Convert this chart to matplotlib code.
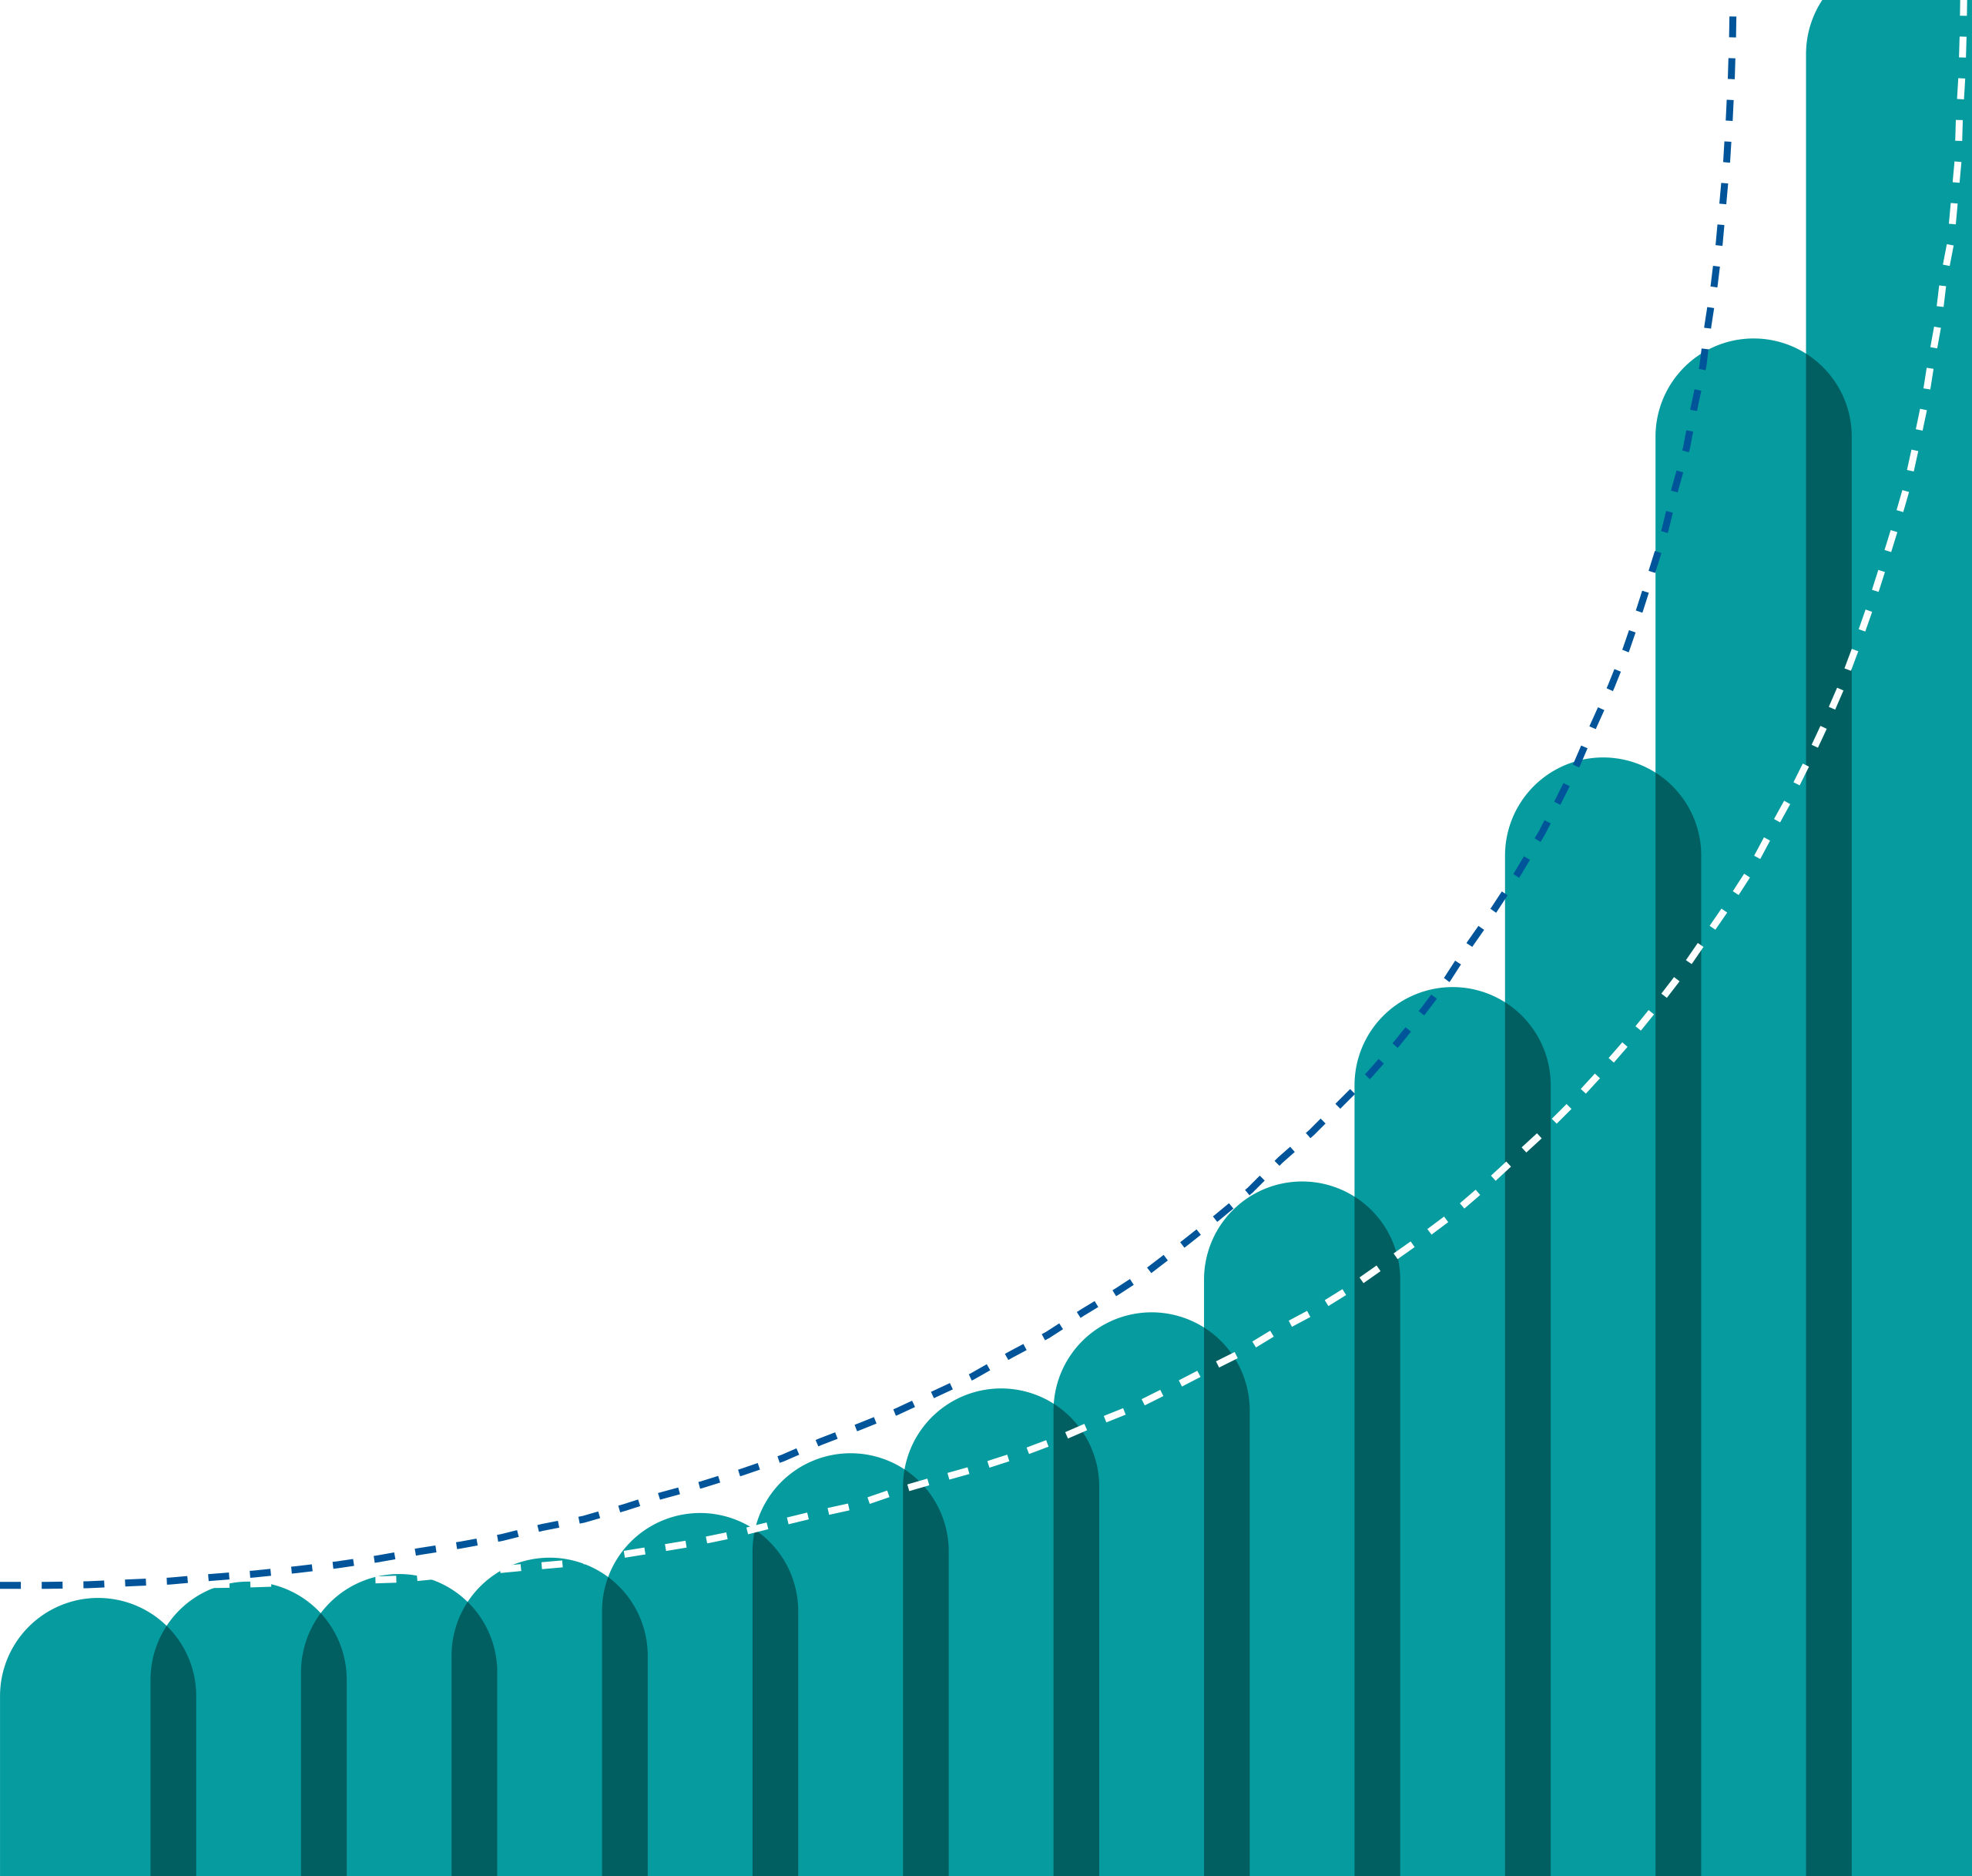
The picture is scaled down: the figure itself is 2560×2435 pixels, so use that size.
import numpy as np
import matplotlib
matplotlib.use("Agg")
import matplotlib.pyplot as plt
from matplotlib.path import Path
from matplotlib.patches import PathPatch

# ---- data ----
categories = list(range(13))
bar_values = [221, 234, 240, 253, 288.5, 336, 387.5, 448, 552, 706.5, 889, 1222, 1526]

blue_x = [-0.652, -0.343, -0.067, 0.209, 0.476, 0.760, 1.036, 1.312, 1.588, 1.855,
          2.139, 2.407, 2.682, 2.950, 3.226, 3.501, 3.735, 4.011, 4.278, 4.546,
          4.796, 5.056, 5.306, 5.557, 5.808, 6.058, 6.309, 6.543, 6.777, 6.969,
          7.220, 7.437, 7.654, 7.855, 8.064, 8.256, 8.448, 8.632, 8.808, 8.966,
          9.117, 9.275, 9.434, 9.593, 9.701, 9.827, 9.935, 10.052, 10.153, 10.245,
          10.328, 10.412, 10.479, 10.554, 10.604, 10.663, 10.696, 10.738, 10.771,
          10.796, 10.821, 10.838, 10.852, 10.860, 10.864, 10.868]
blue_y = [231, 231, 231.5, 233, 234.4, 237.4, 240, 243.4, 247.3, 252,
          258, 263, 269, 277, 283.5, 293, 302, 311, 321, 332,
          345, 357, 369, 383, 397, 414, 430, 448, 465, 480,
          503, 523.5, 545, 569, 591, 614, 637, 662, 688, 713,
          741, 768, 797, 829, 854, 884, 914, 945, 975, 1007,
          1038, 1070, 1103, 1135, 1166.5, 1200, 1232, 1264.5, 1297,
          1330, 1363, 1396, 1430, 1462, 1489, 1501]

white_x = [-0.652, 0.100, 0.978, 2.014, 2.841, 3.117, 3.668, 3.919, 4.203, 4.471,
           4.746, 5.014, 5.281, 5.540, 5.808, 6.067, 6.334, 6.585, 6.835, 7.103,
           7.345, 7.579, 7.813, 8.064, 8.306, 8.532, 8.757, 8.975, 9.184, 9.401,
           9.601, 9.802, 9.986, 10.161, 10.337, 10.504, 10.821, 10.972, 11.097,
           11.231, 11.356, 11.473, 11.582, 11.682, 11.774, 11.858, 11.941, 12.016,
           12.075, 12.133, 12.175, 12.225, 12.259, 12.309, 12.334, 12.359, 12.367,
           12.384, 12.392, 12.397]
white_y = [230, 230.5, 232, 236, 245.5, 248.4, 259, 264, 271, 279,
           287, 294, 305, 314, 323, 333, 345, 358, 370, 386,
           401, 415, 432, 448, 466, 485, 504, 523.5, 545, 569,
           591, 615, 639, 663, 689, 715, 770, 798, 826,
           855, 885, 915, 945, 977, 1008.5, 1040, 1072, 1103,
           1135, 1168, 1200, 1233, 1267, 1298, 1331, 1364, 1397,
           1431, 1463, 1501]

# ---- style ----
TEAL = "#069b9e"
DARK = "#015f62"
BLUE = "#00559a"
BAR_WIDTH = 1.3036

fig = plt.figure(figsize=(25.6, 24.35), dpi=100)
ax = fig.add_axes([0, 0, 1, 1])
ax.set_xlim(-0.652, 12.451)
ax.set_ylim(0, 1491)
ax.axis("off")

# scale so the caps are true semicircles on screen
p0 = ax.transData.transform((0, 0))
p1 = ax.transData.transform((1, 1))
sx, sy = p1[0] - p0[0], p1[1] - p0[1]
rx = BAR_WIDTH / 2
ry = rx * sx / sy


def bar_path(xc, h, bottom=-30):
    t = np.linspace(np.pi, 0, 120)
    verts = [(xc - rx, bottom), (xc - rx, h - ry)]
    verts += list(zip(xc + rx * np.cos(t), h - ry + ry * np.sin(t)))
    verts += [(xc + rx, bottom), (xc - rx, bottom)]
    codes = [Path.MOVETO] + [Path.LINETO] * (len(verts) - 2) + [Path.CLOSEPOLY]
    return Path(verts, codes)


patches = []
for xc, h in zip(categories, bar_values):
    p = PathPatch(bar_path(xc, h), facecolor=TEAL, edgecolor="none", zorder=2)
    ax.add_patch(p)
    patches.append(p)

# darker overlap between neighbouring bars
for i in range(1, len(categories)):
    d = PathPatch(bar_path(categories[i], bar_values[i]), facecolor=DARK,
                  edgecolor="none", zorder=3)
    ax.add_patch(d)
    d.set_clip_path(patches[i - 1])

ax.plot(white_x, white_y, color="white", lw=6.5, ls=(0, (3, 3)),
        dash_capstyle="butt", zorder=5)
ax.plot(blue_x, blue_y, color=BLUE, lw=6.5, ls=(0, (3, 3)),
        dash_capstyle="butt", zorder=6)

fig.savefig("out.png", dpi=100, facecolor="white")
